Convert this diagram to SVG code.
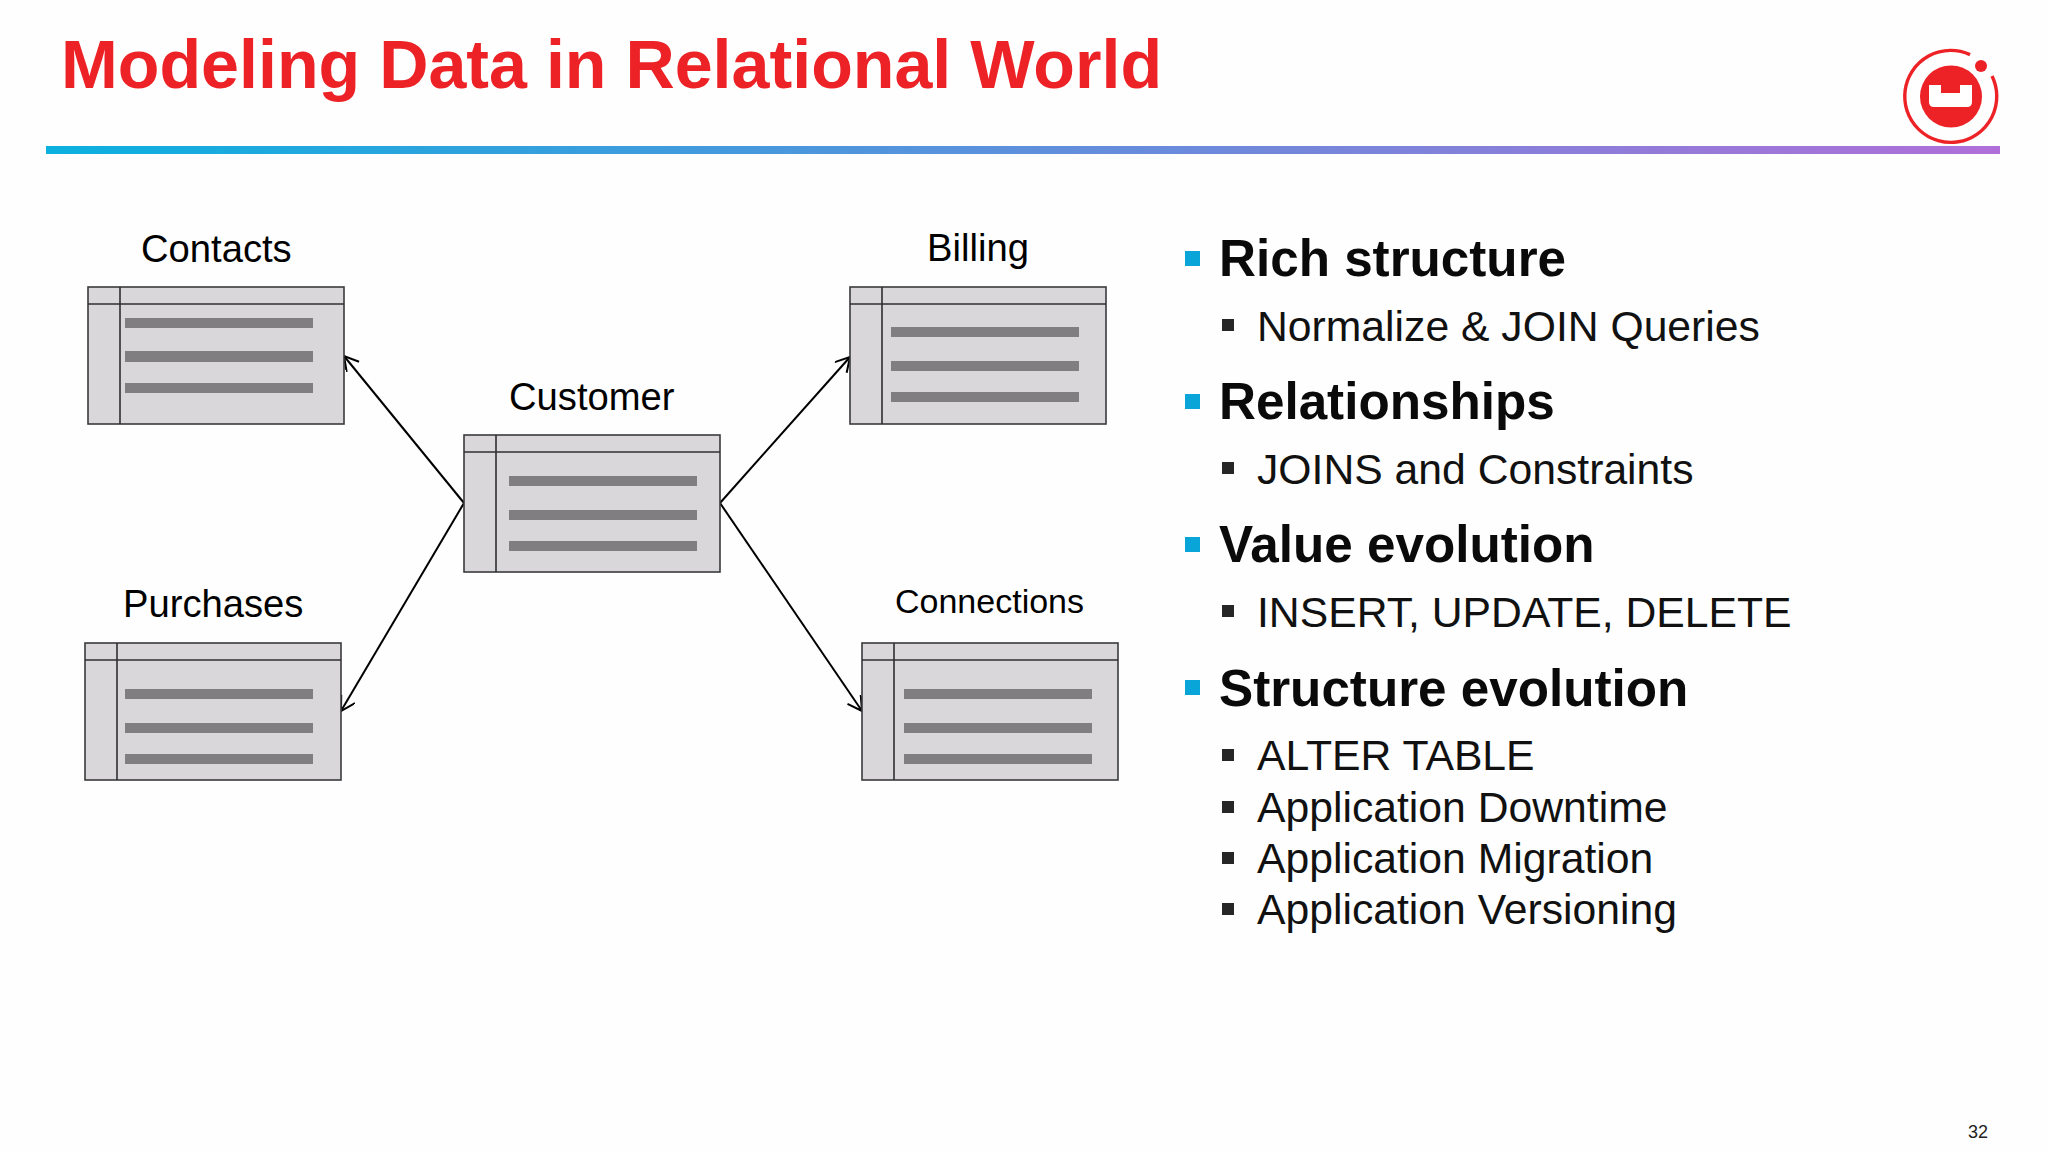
<svg xmlns="http://www.w3.org/2000/svg" width="2048" height="1152" viewBox="0 0 2048 1152">
<style>
text{font-family:"Liberation Sans",Arial,sans-serif}
.t{fill:#000;font-size:38.2px}
.h{font-size:51.2px;font-weight:bold;fill:#0a0a0a}
.s{font-size:42.7px;fill:#111}
.tb{fill:#d9d7da;stroke:#3a3a3c;stroke-width:1.6}
.ln{stroke:#2f2f31;stroke-width:1.6;fill:none}
.bar{fill:#807e81}
.bu{fill:#0aa5d8}
.sb{fill:#262626}
.c{stroke:#000;stroke-width:2;fill:none}
</style>
<defs>
<linearGradient id="g" x1="0" x2="1" y1="0" y2="0"><stop offset="0" stop-color="#0bb0df"/><stop offset="1" stop-color="#b06fd8"/></linearGradient>
<marker id="a" markerUnits="userSpaceOnUse" markerWidth="18" markerHeight="18" refX="15" refY="8" orient="auto"><path d="M1 0L15 8L1 16" fill="none" stroke="#000" stroke-width="2"/></marker>
<g id="tbl"><rect class="tb" width="256" height="137"/><path class="ln" d="M0 17H256M32 0V137"/></g>
</defs>
<rect width="2048" height="1152" fill="#fefefe"/>
<text id="title" x="61" y="88" font-size="68.2" font-weight="bold" fill="#ed2226">Modeling Data in Relational World</text>
<rect id="rule" x="46" y="146" width="1954" height="8" fill="url(#g)"/>
<g id="logo"><path d="M1970 54.6A46 46 0 1 0 1992 76" fill="none" stroke="#ed2226" stroke-width="3.4"/><circle cx="1981" cy="66" r="6" fill="#ed2226"/><circle cx="1951" cy="96.5" r="31" fill="#ed2226"/><path d="M1929 85H1941V93H1960V85H1972V102Q1972 107 1967 107H1934Q1929 107 1929 102Z" fill="#fff"/></g>
<g id="connectors"><path class="c" marker-end="url(#a)" d="M464 503L344 356"/><path class="c" marker-end="url(#a)" d="M464 503L341 711"/><path class="c" marker-end="url(#a)" d="M720 503L850 357"/><path class="c" marker-end="url(#a)" d="M720 503L862 711"/></g>
<g id="contacts"><use href="#tbl" x="88" y="287"/><rect class="bar" x="125" y="318" width="188" height="10"/><rect class="bar" x="125" y="351" width="188" height="11"/><rect class="bar" x="125" y="383" width="188" height="10"/><text class="t" x="141" y="262">Contacts</text></g>
<g id="billing"><use href="#tbl" x="850" y="287"/><rect class="bar" x="891" y="327" width="188" height="10"/><rect class="bar" x="891" y="361" width="188" height="10"/><rect class="bar" x="891" y="392" width="188" height="10"/><text class="t" x="927" y="261">Billing</text></g>
<g id="customer"><use href="#tbl" x="464" y="435"/><rect class="bar" x="509" y="476" width="188" height="10"/><rect class="bar" x="509" y="510" width="188" height="10"/><rect class="bar" x="509" y="541" width="188" height="10"/><text class="t" x="509" y="410">Customer</text></g>
<g id="purchases"><use href="#tbl" x="85" y="643"/><rect class="bar" x="125" y="689" width="188" height="10"/><rect class="bar" x="125" y="723" width="188" height="10"/><rect class="bar" x="125" y="754" width="188" height="10"/><text class="t" x="123" y="617">Purchases</text></g>
<g id="connections"><use href="#tbl" x="862" y="643"/><rect class="bar" x="904" y="689" width="188" height="10"/><rect class="bar" x="904" y="723" width="188" height="10"/><rect class="bar" x="904" y="754" width="188" height="10"/><text class="t" x="895" y="613" style="font-size:34px">Connections</text></g>
<g id="bullets">
<rect class="bu" x="1185" y="251" width="15" height="15"/><text class="h" x="1219" y="276">Rich structure</text>
<rect class="sb" x="1222" y="319" width="12" height="12"/><text class="s" x="1257" y="341">Normalize &amp; JOIN Queries</text>
<rect class="bu" x="1185" y="394" width="15" height="15"/><text class="h" x="1219" y="419">Relationships</text>
<rect class="sb" x="1222" y="462" width="12" height="12"/><text class="s" x="1257" y="484">JOINS and Constraints</text>
<rect class="bu" x="1185" y="537" width="15" height="15"/><text class="h" x="1219" y="562">Value evolution</text>
<rect class="sb" x="1222" y="605" width="12" height="12"/><text class="s" x="1257" y="627">INSERT, UPDATE, DELETE</text>
<rect class="bu" x="1185" y="680" width="15" height="15"/><text class="h" x="1219" y="706">Structure evolution</text>
<rect class="sb" x="1222" y="749" width="12" height="12"/><text class="s" x="1257" y="770">ALTER TABLE</text>
<rect class="sb" x="1222" y="801" width="12" height="12"/><text class="s" x="1257" y="822">Application Downtime</text>
<rect class="sb" x="1222" y="852" width="12" height="12"/><text class="s" x="1257" y="873">Application Migration</text>
<rect class="sb" x="1222" y="903" width="12" height="12"/><text class="s" x="1257" y="924">Application Versioning</text>
</g>
<text id="page" x="1968" y="1138" font-size="18" fill="#222">32</text>
</svg>
